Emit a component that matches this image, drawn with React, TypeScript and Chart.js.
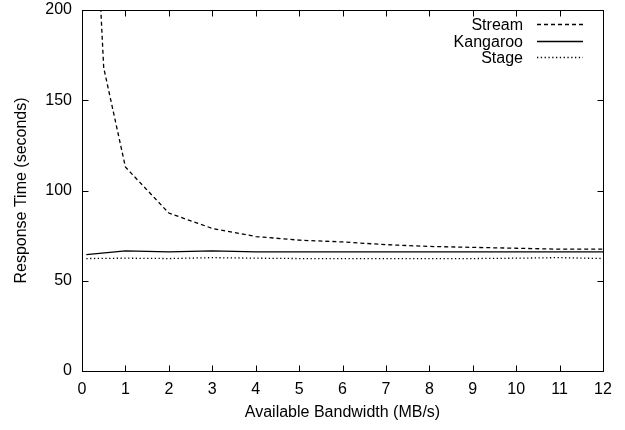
import React, { useEffect, useRef } from "react";
import { Chart, registerables } from "chart.js";

Chart.register(...registerables);

const streamX = [0.1, 0.5, 1, 2, 3, 4, 5, 6, 7, 8, 9, 10, 11, 12];
const streamY = [360, 168, 113, 87.5, 79, 74.5, 72.5, 71.5, 70, 69, 68.5, 68, 67.5, 67.5];
const kangarooX = [0.1, 1, 2, 3, 4, 5, 6, 7, 8, 9, 10, 11, 12];
const kangarooY = [64.5, 66.5, 66, 66.5, 66, 66, 66, 66, 66, 66, 66, 66, 66];
const stageX = [0.1, 1, 2, 3, 4, 5, 6, 7, 8, 9, 10, 11, 12];
const stageY = [62.3, 62.5, 62.3, 62.8, 62.5, 62.3, 62.3, 62.3, 62.3, 62.3, 62.5, 62.8, 62.3];
const seriesNames = ["Stream", "Kangaroo", "Stage"];
const xTitle = "Available Bandwidth (MB/s)";
const yTitle = "Response Time (seconds)";

const FONT = '"Liberation Sans", Arial, Helvetica, sans-serif';
const FS = 16;

const boxPlugin = {
  id: "gnuplotBox",
  afterDatasetsDraw(chart: any) {
    const { ctx, chartArea, scales } = chart;
    const { left, right, top, bottom } = chartArea;
    const L = Math.round(left) + 0.5;
    const R = Math.round(right) + 0.5;
    const T = Math.round(top) + 0.5;
    const B = Math.round(bottom) + 0.5;
    ctx.save();
    ctx.strokeStyle = "#000";
    ctx.lineWidth = 1;
    ctx.setLineDash([]);
    ctx.strokeRect(L, T, R - L, B - T);
    const tl = 6;
    ctx.beginPath();
    scales.x.ticks.forEach((t: any) => {
      const px = Math.round(scales.x.getPixelForValue(t.value)) + 0.5;
      ctx.moveTo(px, B);
      ctx.lineTo(px, B - tl);
      ctx.moveTo(px, T);
      ctx.lineTo(px, T + tl);
    });
    scales.y.ticks.forEach((t: any) => {
      const py = Math.round(scales.y.getPixelForValue(t.value)) + 0.5;
      ctx.moveTo(L, py);
      ctx.lineTo(L + tl, py);
      ctx.moveTo(R, py);
      ctx.lineTo(R - tl, py);
    });
    ctx.stroke();

    // legend (gnuplot style: right-aligned text, sample on the right)
    ctx.font = `${FS}px ${FONT}`;
    ctx.fillStyle = "#000";
    ctx.textAlign = "right";
    ctx.textBaseline = "middle";
    chart.data.datasets.forEach((ds: any, i: number) => {
      const yRow = Math.round(top + 14 + i * 16.7) + 0.5;
      ctx.fillText(ds.label, right - 80, yRow + 1);
      ctx.beginPath();
      ctx.setLineDash(ds.borderDash || []);
      ctx.lineWidth = ds.borderWidth || 1;
      ctx.moveTo(right - 66, yRow);
      ctx.lineTo(right - 20, yRow);
      ctx.stroke();
    });
    ctx.restore();
  },
};

export default function App() {
  const ref = useRef<HTMLCanvasElement>(null);
  useEffect(() => {
    const canvas = ref.current;
    if (!canvas) return;
    const mk = (xs: number[], ys: number[]) => xs.map((x, i) => ({ x, y: ys[i] }));
    const chart = new Chart(canvas, {
      type: "line",
      data: {
        datasets: [
          {
            label: seriesNames[0],
            data: mk(streamX, streamY),
            borderColor: "#000",
            borderWidth: 1.3,
            borderDash: [4, 3],
            pointRadius: 0,
            fill: false,
            tension: 0,
          },
          {
            label: seriesNames[1],
            data: mk(kangarooX, kangarooY),
            borderColor: "#000",
            borderWidth: 1.3,
            pointRadius: 0,
            fill: false,
            tension: 0,
          },
          {
            label: seriesNames[2],
            data: mk(stageX, stageY),
            borderColor: "#000",
            borderWidth: 1.3,
            borderDash: [1.3, 2.5],
            pointRadius: 0,
            fill: false,
            tension: 0,
          },
        ],
      },
      options: {
        animation: false,
        responsive: false,
        devicePixelRatio: 1,
        layout: { padding: { top: 10, right: 22, left: 0, bottom: 0 } },
        plugins: { legend: { display: false }, tooltip: { enabled: false } },
        scales: {
          x: {
            type: "linear",
            min: 0,
            max: 12,
            grid: { display: false, drawTicks: false },
            border: { display: false },
            ticks: { stepSize: 1, color: "#000", font: { size: FS, family: FONT }, padding: 9, maxRotation: 0 },
            title: { display: true, text: xTitle, color: "#000", font: { size: FS, family: FONT }, padding: { top: 0, bottom: 8 } },
            afterFit: (s: any) => {
              s.height = 59;
              s.paddingLeft = 0;
              s.paddingRight = 0;
            },
          },
          y: {
            type: "linear",
            min: 0,
            max: 200,
            grid: { display: false, drawTicks: false },
            border: { display: false },
            ticks: { stepSize: 50, color: "#000", font: { size: FS, family: FONT }, padding: 10 },
            title: { display: true, text: yTitle, color: "#000", font: { size: FS, family: FONT }, padding: { top: 12, bottom: 0 } },
            afterFit: (s: any) => {
              s.width = 82;
              s.paddingTop = 0;
              s.paddingBottom = 0;
            },
          },
        },
      },
      plugins: [boxPlugin],
    });
    return () => chart.destroy();
  }, []);
  return (
    <div style={{ position: "absolute", left: 0, top: 0, width: 625, height: 430, background: "#fff" }}>
      <canvas ref={ref} width={625} height={430} style={{ display: "block" }} />
    </div>
  );
}
